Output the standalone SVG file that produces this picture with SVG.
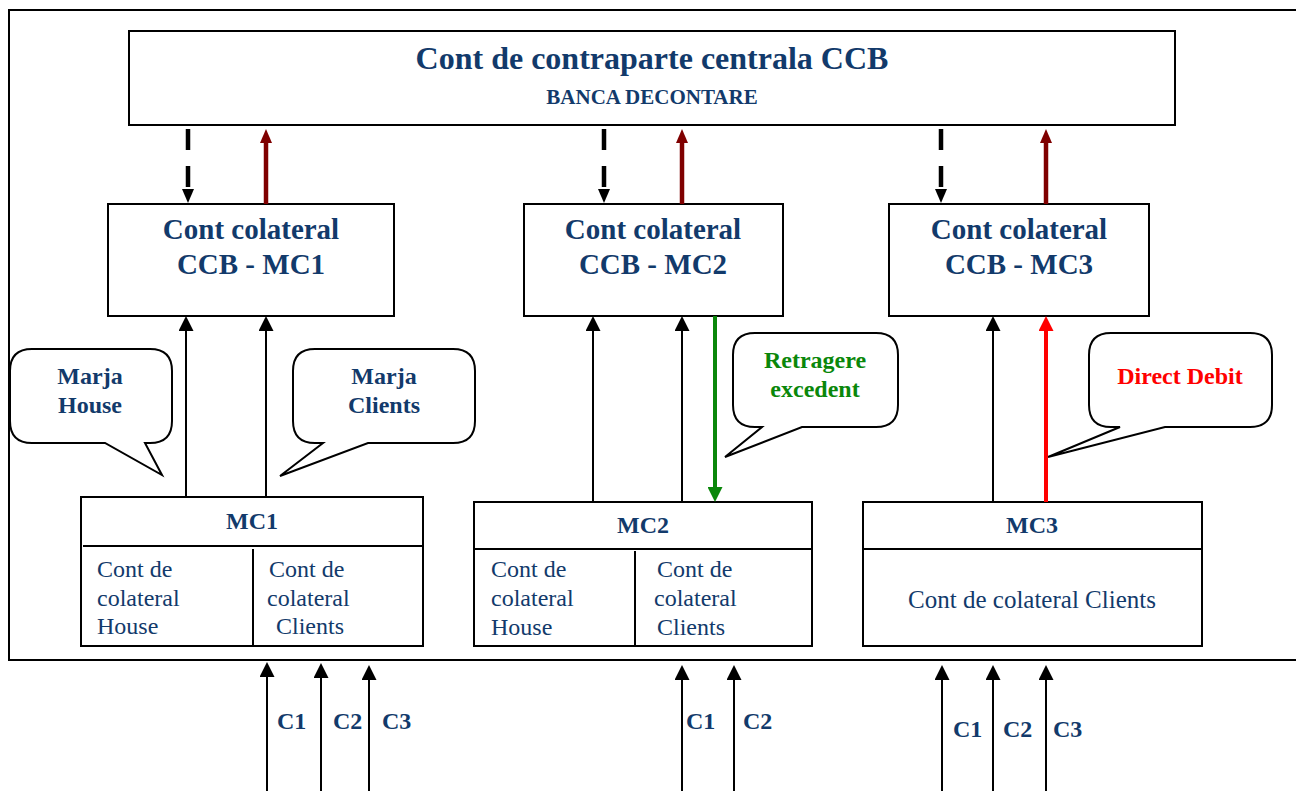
<svg xmlns="http://www.w3.org/2000/svg" width="1296" height="791" viewBox="0 0 1296 791">
<style>
.box{fill:#fff;stroke:#000;stroke-width:2}
.frame{fill:none;stroke:#000;stroke-width:2}
.t{font-family:"Liberation Serif","Times New Roman",serif;fill:#123a6b}
.b{font-weight:bold}
.thin{stroke:#000;stroke-width:2;fill:none}
.dash{stroke:#000;stroke-width:4.5;fill:none;stroke-dasharray:21 16}
.dred{stroke:#7f0000;stroke-width:4.5;fill:none}
.grn{stroke:#0a870a;stroke-width:4;fill:none}
.red{stroke:#ff0000;stroke-width:4;fill:none}
</style>
<defs>
<marker id="ab" markerUnits="userSpaceOnUse" markerWidth="15" markerHeight="15" viewBox="0 0 15 15" refX="0" refY="7.5" orient="auto"><path d="M0,0 L15,7.5 L0,15 Z" fill="#000"/></marker>
<marker id="abk" markerUnits="userSpaceOnUse" markerWidth="14" markerHeight="12" viewBox="0 0 14 12" refX="0" refY="6" orient="auto"><path d="M0,0 L14,6 L0,12 Z" fill="#000"/></marker>
<marker id="adr" markerUnits="userSpaceOnUse" markerWidth="14" markerHeight="12" viewBox="0 0 14 12" refX="0" refY="6" orient="auto"><path d="M0,0 L14,6 L0,12 Z" fill="#7f0000"/></marker>
<marker id="ag" markerUnits="userSpaceOnUse" markerWidth="15" markerHeight="15" viewBox="0 0 15 15" refX="0" refY="7.5" orient="auto"><path d="M0,0 L15,7.5 L0,15 Z" fill="#0a870a"/></marker>
<marker id="ar" markerUnits="userSpaceOnUse" markerWidth="15" markerHeight="15" viewBox="0 0 15 15" refX="0" refY="7.5" orient="auto"><path d="M0,0 L15,7.5 L0,15 Z" fill="#ff0000"/></marker>
</defs>
<rect width="1296" height="791" fill="#fff"/>
<rect class="frame" x="9" y="10" width="1300" height="650"/>

<g id="ccb">
<rect class="box" x="129" y="31" width="1046" height="94"/>
<text class="t b" x="652" y="69" font-size="32" text-anchor="middle">Cont de contraparte centrala CCB</text>
<text class="t b" x="652" y="104" font-size="21" text-anchor="middle">BANCA DECONTARE</text>
</g>

<g id="ccb-mc1">
<rect class="box" x="108" y="204" width="286" height="112"/>
<text class="t b" x="251" y="239" font-size="29" text-anchor="middle">Cont colateral</text>
<text class="t b" x="251" y="274" font-size="29" text-anchor="middle">CCB - MC1</text>
</g>
<g id="ccb-mc2">
<rect class="box" x="524" y="204" width="259" height="112"/>
<text class="t b" x="653" y="239" font-size="29" text-anchor="middle">Cont colateral</text>
<text class="t b" x="653" y="274" font-size="29" text-anchor="middle">CCB - MC2</text>
</g>
<g id="ccb-mc3">
<rect class="box" x="889" y="204" width="260" height="112"/>
<text class="t b" x="1019" y="239" font-size="29" text-anchor="middle">Cont colateral</text>
<text class="t b" x="1019" y="274" font-size="29" text-anchor="middle">CCB - MC3</text>
</g>

<g id="mc1">
<rect class="box" x="81" y="497" width="342" height="149"/>
<line class="thin" x1="83" y1="546" x2="423" y2="546"/>
<line class="thin" x1="253" y1="549" x2="253" y2="646"/>
<text class="t b" x="252" y="529" font-size="24" text-anchor="middle">MC1</text>
<text class="t" font-size="24"><tspan x="97" y="577">Cont de</tspan><tspan x="97" y="606">colateral</tspan><tspan x="97" y="634">House</tspan></text>
<text class="t" font-size="24"><tspan x="269" y="577">Cont de</tspan><tspan x="267" y="606">colateral</tspan><tspan x="276" y="634">Clients</tspan></text>
</g>
<g id="mc2">
<rect class="box" x="474" y="502" width="338" height="144"/>
<line class="thin" x1="474" y1="549" x2="812" y2="549"/>
<line class="thin" x1="635" y1="551" x2="635" y2="646"/>
<text class="t b" x="643" y="533" font-size="24" text-anchor="middle">MC2</text>
<text class="t" font-size="24"><tspan x="491" y="577">Cont de</tspan><tspan x="491" y="606">colateral</tspan><tspan x="491" y="635">House</tspan></text>
<text class="t" font-size="24"><tspan x="657" y="577">Cont de</tspan><tspan x="654" y="606">colateral</tspan><tspan x="657" y="635">Clients</tspan></text>
</g>
<g id="mc3">
<rect class="box" x="863" y="502" width="339" height="144"/>
<line class="thin" x1="863" y1="549" x2="1202" y2="549"/>
<text class="t b" x="1032" y="533" font-size="24" text-anchor="middle">MC3</text>
<text class="t" x="1032" y="608" font-size="25" text-anchor="middle">Cont de colateral Clients</text>
</g>

<g id="callout-marja-house">
<path class="box" d="M32,349 H150 Q172,349 172,371 V421 Q172,443 150,443 H145 L162,475 L105,443 H32 Q10,443 10,421 V371 Q10,349 32,349 Z"/>
<text class="t b" x="90" y="384" font-size="24" text-anchor="middle">Marja</text>
<text class="t b" x="90" y="413" font-size="24" text-anchor="middle">House</text>
</g>
<g id="callout-marja-clients">
<path class="box" d="M315,349 H453 Q475,349 475,371 V421 Q475,443 453,443 H368 L280,476 L323,443 H315 Q293,443 293,421 V371 Q293,349 315,349 Z"/>
<text class="t b" x="384" y="384" font-size="24" text-anchor="middle">Marja</text>
<text class="t b" x="384" y="413" font-size="24" text-anchor="middle">Clients</text>
</g>
<g id="callout-retragere">
<path class="box" d="M755,333 H876 Q898,333 898,355 V405 Q898,427 876,427 H802 L725,457 L762,427 H755 Q733,427 733,405 V355 Q733,333 755,333 Z"/>
<text class="b" x="815" y="368" font-size="24" text-anchor="middle" font-family="Liberation Serif,serif" fill="#0a870a">Retragere</text>
<text class="b" x="815" y="397" font-size="24" text-anchor="middle" font-family="Liberation Serif,serif" fill="#0a870a">excedent</text>
</g>
<g id="callout-direct-debit">
<path class="box" d="M1111,333 H1250 Q1272,333 1272,355 V405 Q1272,427 1250,427 H1165 L1048,457 L1120,427 H1111 Q1089,427 1089,405 V355 Q1089,333 1111,333 Z"/>
<text class="b" x="1180" y="384" font-size="24" text-anchor="middle" font-family="Liberation Serif,serif" fill="#ff0000">Direct Debit</text>
</g>

<g id="connectors">
<path class="dash" d="M188,129 V189" marker-end="url(#abk)"/>
<path class="dred" d="M266,204 V143" marker-end="url(#adr)"/>
<path class="dash" d="M604,129 V189" marker-end="url(#abk)"/>
<path class="dred" d="M682,204 V143" marker-end="url(#adr)"/>
<path class="dash" d="M941,129 V189" marker-end="url(#abk)"/>
<path class="dred" d="M1046,204 V143" marker-end="url(#adr)"/>

<path class="thin" d="M186,497 V331" marker-end="url(#ab)"/>
<path class="thin" d="M266,497 V331" marker-end="url(#ab)"/>
<path class="thin" d="M593,502 V331" marker-end="url(#ab)"/>
<path class="thin" d="M682,502 V331" marker-end="url(#ab)"/>
<path class="grn" d="M715,316 V487" marker-end="url(#ag)"/>
<path class="thin" d="M993,502 V331" marker-end="url(#ab)"/>
<path class="red" d="M1046,502 V331" marker-end="url(#ar)"/>

<path class="thin" d="M267,791 V677" marker-end="url(#ab)"/>
<path class="thin" d="M321,791 V678" marker-end="url(#ab)"/>
<path class="thin" d="M369,791 V680" marker-end="url(#ab)"/>
<path class="thin" d="M682,791 V680" marker-end="url(#ab)"/>
<path class="thin" d="M734,791 V680" marker-end="url(#ab)"/>
<path class="thin" d="M942,791 V680" marker-end="url(#ab)"/>
<path class="thin" d="M993,791 V680" marker-end="url(#ab)"/>
<path class="thin" d="M1046,791 V680" marker-end="url(#ab)"/>
</g>

<g id="labels">
<text class="t b" x="277" y="729" font-size="24">C1</text>
<text class="t b" x="333" y="729" font-size="24">C2</text>
<text class="t b" x="382" y="729" font-size="24">C3</text>
<text class="t b" x="686" y="729" font-size="24">C1</text>
<text class="t b" x="743" y="729" font-size="24">C2</text>
<text class="t b" x="953" y="737" font-size="24">C1</text>
<text class="t b" x="1003" y="737" font-size="24">C2</text>
<text class="t b" x="1053" y="737" font-size="24">C3</text>
</g>
</svg>
